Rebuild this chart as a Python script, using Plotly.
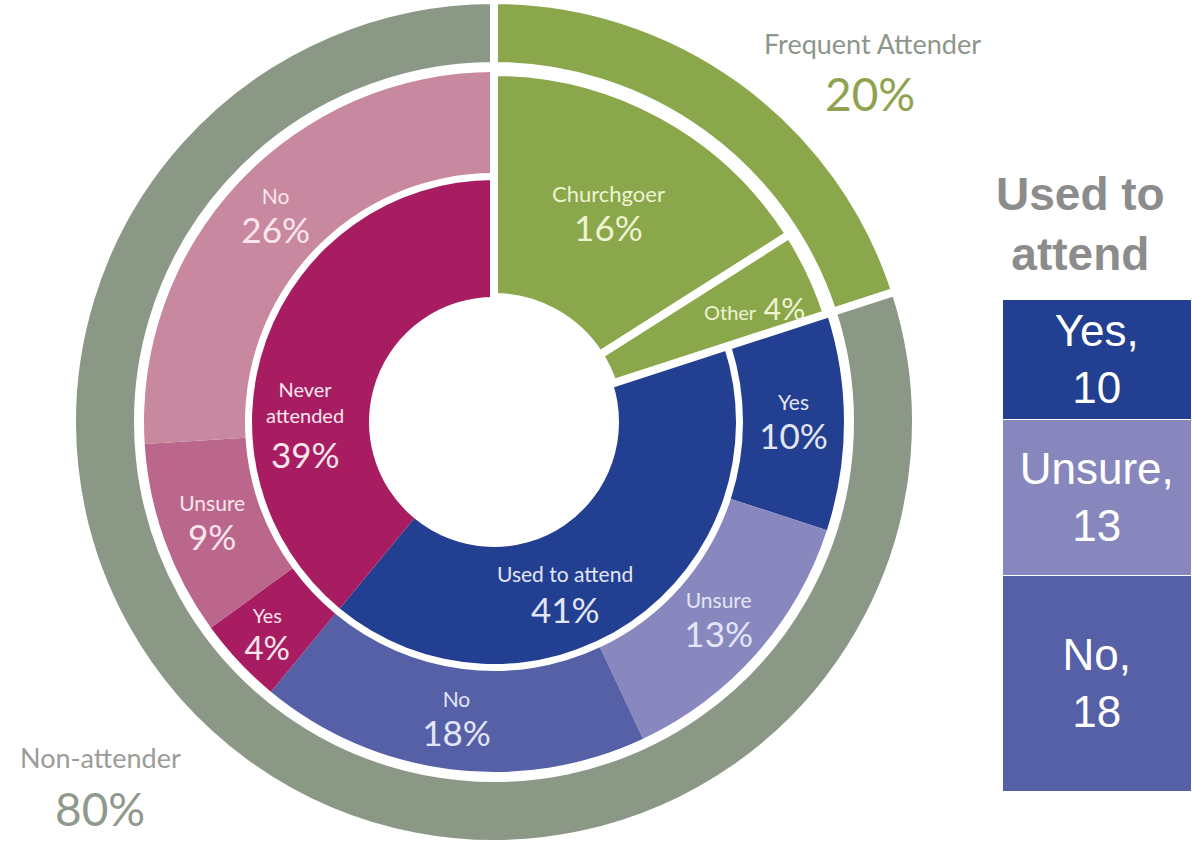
import plotly.graph_objects as go

# outer ring
groups = ["Frequent Attender", "Non-attender"]
group_pct = [20, 80]

# inner ring (Churchgoer / Other run through both inner rings)
segments = ["Churchgoer", "Other", "Used to attend", "Never attended"]
segment_pct = [16, 4, 41, 39]

# middle ring: answers under "Used to attend" and "Never attended"
answers = ["Yes", "Unsure", "No", "Yes", "Unsure", "No"]
answer_pct = [10, 13, 18, 4, 9, 26]

# stacked bar on the right
bar_labels = ["Yes", "Unsure", "No"]
bar_values = [10, 13, 18]

W, H = 1192, 844
CX, CY = 494, 422  # pie centre in px (CY from bottom)

GREEN = "#8aa84b"
GRAY = "#8b9886"
CLEAR = "rgba(0,0,0,0)"
BLUE = "#233f91"
MAGENTA = "#a81d61"
answer_colors = [BLUE, "#8888bf", "#5560a7", MAGENTA, "#bb668b", "#c8889f"]
answer_text = ["#e3e6f7"] * 3 + ["#fbe6ee"] * 3
FONT = "Lato, 'Open Sans', sans-serif"
ARIAL = "Liberation Sans, Arial, sans-serif"


def dom(r):
    return dict(x=[(CX - r) / W, (CX + r) / W], y=[(CY - r) / H, (CY + r) / H])


def tmpl(small=21, big=35):
    return ("<span style='font-size:%dpx'>%%{text}</span><br>"
            "<span style='font-size:%dpx'>%%{value}%%</span>" % (small, big))


R_OUT, R_OUT_IN = 422, 356
R_MID, R_MID_IN = 350, 249
R_IN, R_HOLE = 242, 125

fig = go.Figure()

# inner ring (its labels are placed as annotations below)
fig.add_trace(go.Pie(
    labels=segments, values=segment_pct,
    sort=False, direction="clockwise", rotation=0,
    domain=dom(R_IN), hole=R_HOLE / R_IN,
    marker=dict(colors=[CLEAR, CLEAR, BLUE, MAGENTA], line=dict(width=0)),
    textinfo="none", hoverinfo="skip", showlegend=False,
))

# middle ring
parents = [segments[2]] * 3 + [segments[3]] * 3
mid_labels = segments[:2] + [p + ": " + a for p, a in zip(parents, answers)]
fig.add_trace(go.Pie(
    labels=mid_labels, values=segment_pct[:2] + answer_pct, text=segments[:2] + answers,
    sort=False, direction="clockwise", rotation=0,
    domain=dom(R_MID), hole=R_MID_IN / R_MID,
    marker=dict(colors=[CLEAR, CLEAR] + answer_colors, line=dict(width=0)),
    texttemplate=["", ""] + [tmpl()] * 6,
    textposition="inside", insidetextorientation="horizontal",
    textfont=dict(family=FONT, size=30, color=["#fff", "#fff"] + answer_text),
    hoverinfo="skip", showlegend=False,
))

# green wedges through both inner rings
fig.add_trace(go.Pie(
    labels=segments, values=segment_pct, text=segments,
    sort=False, direction="clockwise", rotation=0,
    domain=dom(R_MID), hole=R_HOLE / R_MID,
    marker=dict(colors=[GREEN, GREEN, CLEAR, CLEAR],
                line=dict(color="white", width=[8, 8, 0, 0])),
    texttemplate=[tmpl(22, 35), "", "", ""],
    textposition="inside", insidetextorientation="horizontal",
    textfont=dict(family=FONT, size=30, color="#eef3d2"),
    hoverinfo="skip", showlegend=False,
))

# outer ring
fig.add_trace(go.Pie(
    labels=groups, values=group_pct,
    sort=False, direction="clockwise", rotation=0,
    domain=dom(R_OUT), hole=R_OUT_IN / R_OUT,
    marker=dict(colors=[GREEN, GRAY], line=dict(color="white", width=8)),
    textinfo="none", hoverinfo="skip", showlegend=False,
))

# stacked bar, bottom segment first
bar_colors = {"Yes": BLUE, "Unsure": "#8787bd", "No": "#5560a6"}
for lab, val in reversed(list(zip(bar_labels, bar_values))):
    fig.add_trace(go.Bar(
        x=[0], y=[val], width=1, xaxis="x", yaxis="y",
        marker=dict(color=bar_colors[lab], line=dict(color="white", width=1.5)),
        text=[f"{lab},<br>{val}"], textposition="inside", insidetextanchor="middle",
        textangle=0,
        textfont=dict(family=ARIAL, size=44, color="white"),
        hoverinfo="skip", showlegend=False,
    ))


def note(x, y, text, size, color, family=FONT):
    return dict(x=x / W, y=1 - y / H, xref="paper", yref="paper", text=text,
                font=dict(family=family, size=size, color=color),
                showarrow=False, xanchor="center", yanchor="middle")


annotations = [
    note(1080, 224, "<b>Used to<br>attend</b>", 46, "#8c8c8c", ARIAL),
    note(872, 44, groups[0], 27, "#8d968a"),
    note(870, 94, f"{group_pct[0]}%", 46, "#8ea24f"),
    note(100, 757, groups[1], 27, "#9a9c98"),
    note(100, 808, f"{group_pct[1]}%", 46, "#8f998c"),
    # Other
    note(754, 308, f"<span style='font-size:20px'>{segments[1]}</span> {segment_pct[1]}%", 30, "#eef3d2"),
    # Used to attend
    note(565, 573, segments[2], 21, "#e3e6f7"),
    note(565, 609, f"{segment_pct[2]}%", 35, "#e3e6f7"),
    # Never attended
    note(305, 402, segments[3].replace(" ", "<br>"), 20, "#fbe6ee"),
    note(305, 454, f"{segment_pct[3]}%", 35, "#fbe6ee"),
]

fig.update_layout(
    width=W, height=H,
    margin=dict(l=0, r=0, t=0, b=0),
    paper_bgcolor="white", plot_bgcolor="white",
    barmode="stack", bargap=0,
    xaxis=dict(domain=[1003 / W, 1], range=[-0.5, 0.5], visible=False, fixedrange=True),
    yaxis=dict(domain=[52 / H, 544 / H], range=[0, sum(bar_values)], visible=False, fixedrange=True),
    annotations=annotations,
)

fig.write_html("out.html", config={"displayModeBar": False},
               post_script="document.body.style.margin='0px';")
